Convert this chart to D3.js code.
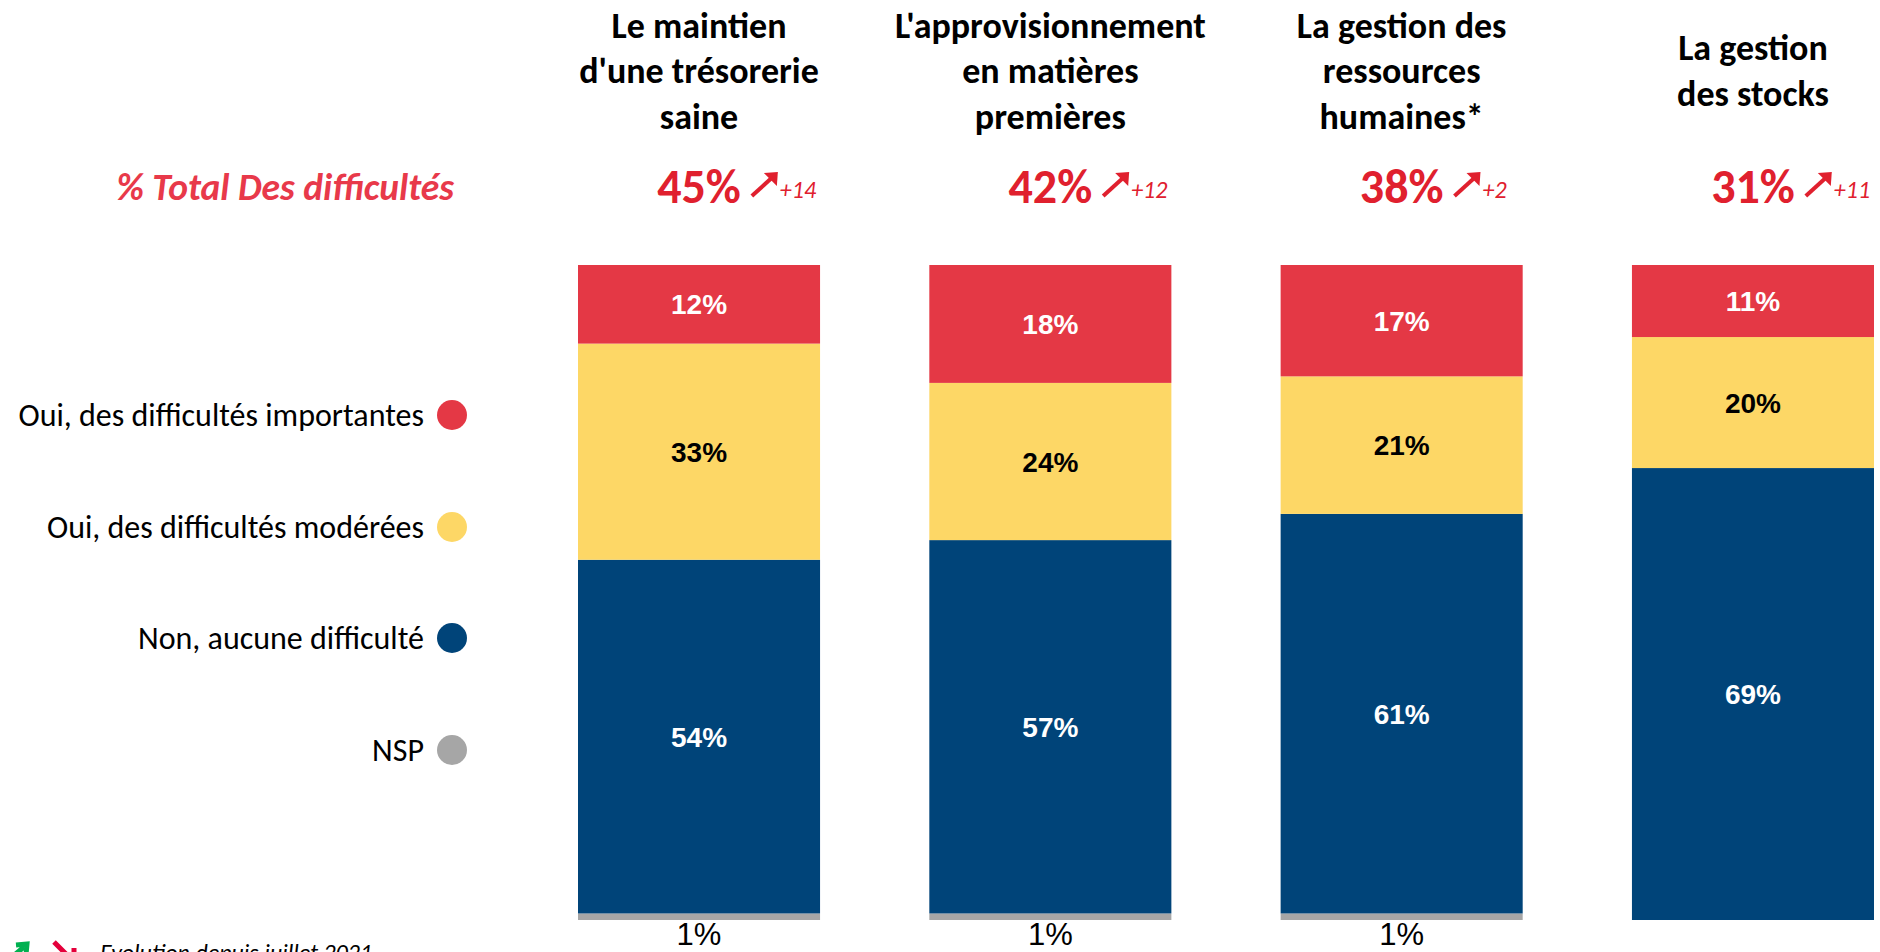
<!DOCTYPE html>
<html>
<head>
<meta charset="utf-8">
<script src="https://cdn.jsdelivr.net/npm/d3@7"></script>
<style>
  html, body { margin: 0; padding: 0; background: #fff; overflow: hidden; }
  svg { display: block; }
</style>
</head>
<body>
<svg id="chart" width="1880" height="952"></svg>
<script>
// ---------- DATA ----------
const categories = [
  "Le maintien d'une trésorerie saine",
  "L'approvisionnement en matières premières",
  "La gestion des ressources humaines*",
  "La gestion des stocks"
];
const titleLines = [
  ["Le maintien", "d'une trésorerie", "saine"],
  ["L'approvisionnement", "en matières", "premières"],
  ["La gestion des", "ressources", "humaines*"],
  ["La gestion", "des stocks"]
];
const importantes = [12, 18, 17, 11];
const moderees    = [33, 24, 21, 20];
const aucune      = [54, 57, 61, 69];
const nsp         = [1, 1, 1, 0];
const totals      = [45, 42, 38, 31];
const evolutions  = ["+14", "+12", "+2", "+11"];
const seriesKeys  = ["nsp", "aucune", "moderees", "importantes"];
const legendLabels = [
  "Oui, des difficultés importantes",
  "Oui, des difficultés modérées",
  "Non, aucune difficulté",
  "NSP"
];
const legendKeys = ["importantes", "moderees", "aucune", "nsp"];
const totalLabel = "% Total Des difficultés";
const footnote = "Evolution depuis juillet 2021";

// ---------- STYLE ----------
const colors = {
  importantes: "#E43845",
  moderees: "#FDD766",
  aucune: "#004479",
  nsp: "#A6A6A6"
};
const labelColors = { importantes: "#fff", moderees: "#000", aucune: "#fff" };
const humanist = "Carlito, Lato, 'Open Sans', sans-serif";
const arial = "'Liberation Sans', Arial, sans-serif";

const svg = d3.select("#chart");

const rows = categories.map((c, i) => ({
  cat: c, importantes: importantes[i], moderees: moderees[i],
  aucune: aucune[i], nsp: nsp[i], i
}));

const x = d3.scaleBand().domain(categories).range([578, 1874])
  .paddingInner(0.311).paddingOuter(0);
const y = d3.scaleLinear().domain([0, 100]).range([920, 265]);

const stack = d3.stack().keys(seriesKeys);
const stacked = stack(rows);

// bars
const layers = svg.append("g").selectAll("g").data(stacked).join("g")
  .attr("fill", d => colors[d.key]);
layers.selectAll("rect").data(d => d.map(p => ({ p, key: d.key })))
  .join("rect")
  .attr("x", d => x(d.p.data.cat))
  .attr("width", x.bandwidth())
  .attr("y", d => y(d.p[1]))
  .attr("height", d => Math.max(0, y(d.p[0]) - y(d.p[1])));

// segment labels
stacked.filter(s => s.key !== "nsp").forEach(s => {
  svg.append("g").selectAll("text").data(s).join("text")
    .attr("x", d => x(d.data.cat) + x.bandwidth() / 2)
    .attr("y", d => (y(d[0]) + y(d[1])) / 2)
    .attr("dy", "0.36em")
    .attr("text-anchor", "middle")
    .attr("font-family", arial)
    .attr("font-weight", "bold")
    .attr("font-size", 28)
    .attr("fill", labelColors[s.key])
    .text(d => d.data[s.key] + "%");
});

// NSP labels below bars
svg.append("g").selectAll("text").data(rows.filter(r => r.nsp > 0)).join("text")
  .attr("x", d => x(d.cat) + x.bandwidth() / 2)
  .attr("y", 945)
  .attr("text-anchor", "middle")
  .attr("font-family", arial)
  .attr("font-size", 31)
  .attr("fill", "#000")
  .text(d => d.nsp + "%");

// titles
rows.forEach((r, i) => {
  const lines = titleLines[i];
  const cx = x(r.cat) + x.bandwidth() / 2;
  const t = svg.append("text")
    .attr("text-anchor", "middle")
    .attr("font-family", humanist)
    .attr("font-weight", "bold")
    .attr("font-size", 36)
    .attr("fill", "#000");
  lines.forEach((ln, k) => {
    t.append("tspan").attr("x", cx)
      .attr("y", 83 + (k - (lines.length - 1) / 2) * 45.5)
      .text(ln);
  });
});

// % Total label
svg.append("text")
  .attr("x", 454).attr("y", 200)
  .attr("text-anchor", "end")
  .attr("font-family", humanist)
  .attr("font-weight", "bold")
  .attr("font-style", "italic")
  .attr("font-size", 37.5)
  .attr("fill", "#E8394A")
  .text(totalLabel);

// totals with evolution arrows
const arrowRed = "#E0202E";
rows.forEach((r, i) => {
  const cx = x(r.cat) + x.bandwidth() / 2;
  const t = svg.append("text")
    .attr("x", cx).attr("y", 203)
    .attr("text-anchor", "middle")
    .attr("font-family", humanist)
    .attr("font-weight", "bold")
    .attr("font-size", 48)
    .attr("fill", arrowRed)
    .text(totals[i] + "%");
  const w = t.node().getComputedTextLength();
  const x0 = cx + w / 2 + 11;
  // arrow ↗
  const ax0 = x0, ay0 = 196, ax1 = x0 + 26, ay1 = 172;
  svg.append("line")
    .attr("x1", ax0).attr("y1", ay0).attr("x2", ax1 - 4).attr("y2", ay1 + 4)
    .attr("stroke", arrowRed).attr("stroke-width", 4);
  svg.append("path")
    .attr("d", `M${ax1},${ay1} L${ax1 - 14},${ay1 + 1} L${ax1 - 1},${ay1 + 14} Z`)
    .attr("fill", arrowRed);
  svg.append("text")
    .attr("x", ax1 + 2).attr("y", 198)
    .attr("font-family", humanist)
    .attr("font-style", "italic")
    .attr("font-size", 24)
    .attr("fill", arrowRed)
    .text(evolutions[i]);
});

// legend
const leg = svg.append("g").selectAll("g").data(legendKeys).join("g")
  .attr("transform", (d, i) => `translate(0,${[415, 527, 638, 750][i]})`);
leg.append("circle").attr("cx", 452).attr("cy", 0).attr("r", 15)
  .attr("fill", d => colors[d]);
leg.append("text")
  .attr("x", 424).attr("y", 0).attr("dy", "0.35em")
  .attr("text-anchor", "end")
  .attr("font-family", humanist)
  .attr("font-size", 32)
  .attr("fill", "#000")
  .text((d, i) => legendLabels[i]);

// footnote (mostly cut off at the bottom edge, as in the original)
svg.append("path")
  .attr("d", "M6,962 L24,947 M16,945 L27,944 L26,955")
  .attr("stroke", "#00B050").attr("stroke-width", 5).attr("fill", "none");
svg.append("path")
  .attr("d", "M54,942 L72,960 M74,948 L74,961 L62,961")
  .attr("stroke", "#E4003B").attr("stroke-width", 5).attr("fill", "none");
svg.append("text")
  .attr("x", 100).attr("y", 961)
  .attr("font-family", humanist)
  .attr("font-style", "italic")
  .attr("font-size", 24)
  .attr("fill", "#000")
  .text(footnote);
</script>
</body>
</html>
